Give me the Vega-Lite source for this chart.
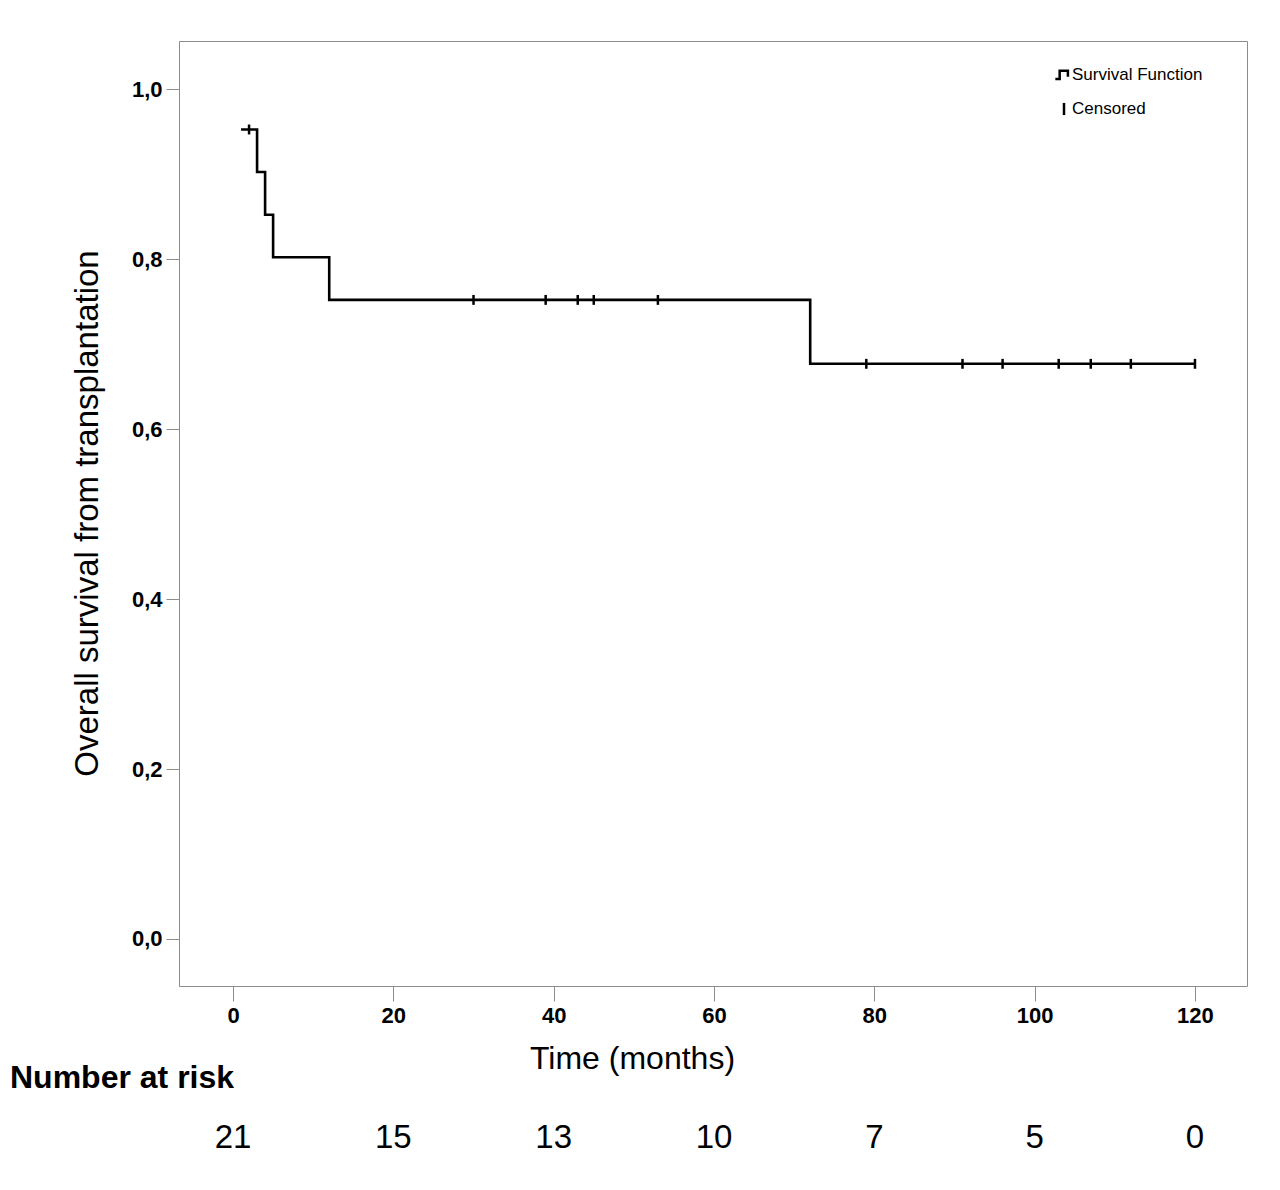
{
  "$schema": "https://vega.github.io/schema/vega-lite/v6.json",
  "padding": {"left": 10, "top": 40, "right": 5, "bottom": 5},
  "background": "white",
  "config": {"font": "Liberation Sans"},
  "datasets": {
    "curve": [
      {"time": 1, "surv": 0.9524},
      {"time": 3, "surv": 0.9023},
      {"time": 4, "surv": 0.8521},
      {"time": 5, "surv": 0.802},
      {"time": 12, "surv": 0.7519},
      {"time": 72, "surv": 0.6767},
      {"time": 120, "surv": 0.6767}
    ],
    "censored": [
      {"time": 2, "surv": 0.9524, "status": "Censored"},
      {"time": 30, "surv": 0.7519, "status": "Censored"},
      {"time": 39, "surv": 0.7519, "status": "Censored"},
      {"time": 43, "surv": 0.7519, "status": "Censored"},
      {"time": 45, "surv": 0.7519, "status": "Censored"},
      {"time": 53, "surv": 0.7519, "status": "Censored"},
      {"time": 79, "surv": 0.6767, "status": "Censored"},
      {"time": 91, "surv": 0.6767, "status": "Censored"},
      {"time": 96, "surv": 0.6767, "status": "Censored"},
      {"time": 103, "surv": 0.6767, "status": "Censored"},
      {"time": 107, "surv": 0.6767, "status": "Censored"},
      {"time": 112, "surv": 0.6767, "status": "Censored"},
      {"time": 120, "surv": 0.6767, "status": "Censored"}
    ],
    "risk": [
      {"time": 0, "n": 21},
      {"time": 20, "n": 15},
      {"time": 40, "n": 13},
      {"time": 60, "n": 10},
      {"time": 80, "n": 7},
      {"time": 100, "n": 5},
      {"time": 120, "n": 0}
    ]
  },
  "bounds": "flush",
  "spacing": 142,
  "vconcat": [
    {
      "width": 1068,
      "height": 945,
      "view": {"stroke": "#8c8c8c", "strokeWidth": 1},
      "encoding": {
        "x": {
          "field": "time",
          "type": "quantitative",
          "scale": {"domain": [-6.74, 126.49], "nice": false, "zero": false},
          "axis": {
            "values": [0, 20, 40, 60, 80, 100, 120],
            "domain": false,
            "grid": false,
            "tickColor": "#8c8c8c",
            "tickSize": 15,
            "labelPadding": 4,
            "labelFont": "Liberation Sans",
            "labelFontSize": 22,
            "labelFontWeight": "bold",
            "labelColor": "black",
            "title": "Time (months)",
            "titleFont": "Liberation Sans",
            "titleFontSize": 32,
            "titleFontWeight": "normal",
            "titleColor": "black",
            "titleX": 453,
            "titleY": 82,
            "titleAlign": "center",
            "titleBaseline": "alphabetic"
          }
        },
        "y": {
          "field": "surv",
          "type": "quantitative",
          "scale": {"domain": [-0.0553, 1.0565], "nice": false, "zero": false},
          "axis": {
            "values": [0, 0.2, 0.4, 0.6, 0.8, 1],
            "format": ".1f",
            "labelExpr": "replace(datum.label, '.', ',')",
            "domain": false,
            "grid": false,
            "tickColor": "#8c8c8c",
            "tickSize": 13,
            "labelPadding": 4,
            "labelFont": "Liberation Sans",
            "labelFontSize": 22,
            "labelFontWeight": "bold",
            "labelColor": "black",
            "title": "Overall survival from transplantation",
            "titleFont": "Liberation Sans",
            "titleFontSize": 33,
            "titleFontWeight": "normal",
            "titleColor": "black",
            "titleX": -82,
            "titleY": 472,
            "titleAngle": -90,
            "titleAlign": "center",
            "titleBaseline": "alphabetic"
          }
        }
      },
      "layer": [
        {
          "data": {"name": "curve"},
          "mark": {"type": "line", "interpolate": "step-after", "color": "black", "strokeWidth": 2.6}
        },
        {
          "data": {"name": "censored"},
          "mark": {"type": "point", "filled": false, "color": "black", "strokeWidth": 2.5, "size": 200, "opacity": 1},
          "encoding": {
            "shape": {
              "field": "status",
              "type": "nominal",
              "scale": {
                "domain": ["Survival Function", "Censored"],
                "range": ["M-1,0.45L-0.5,0.45L-0.5,-0.5L0.45,-0.5L0.45,0.2", "M0,-0.7L0,0.7"]
              },
              "legend": {
                "orient": "none",
                "legendX": 875,
                "legendY": 24,
                "title": null,
                "padding": 0,
                "symbolSize": 300,
                "symbolStrokeWidth": 2.5,
                "symbolStrokeColor": "black",
                "symbolFillColor": "transparent",
                "labelFont": "Liberation Sans",
                "labelFontSize": 17,
                "labelColor": "black",
                "labelOffset": -2,
                "rowPadding": 13
              }
            }
          }
        }
      ]
    },
    {
      "width": 1068,
      "height": 40,
      "view": {"stroke": null},
      "title": {
        "text": "Number at risk",
        "anchor": "start",
        "dx": -169,
        "offset": 2,
        "baseline": "alphabetic",
        "font": "Liberation Sans",
        "fontSize": 32,
        "fontWeight": "bold",
        "color": "black"
      },
      "data": {"name": "risk"},
      "mark": {"type": "text", "font": "Liberation Sans", "fontSize": 33, "baseline": "alphabetic", "color": "black"},
      "encoding": {
        "x": {
          "field": "time",
          "type": "quantitative",
          "scale": {"domain": [-6.74, 126.49], "nice": false, "zero": false},
          "axis": null
        },
        "text": {"field": "n", "type": "quantitative"}
      }
    }
  ]
}
